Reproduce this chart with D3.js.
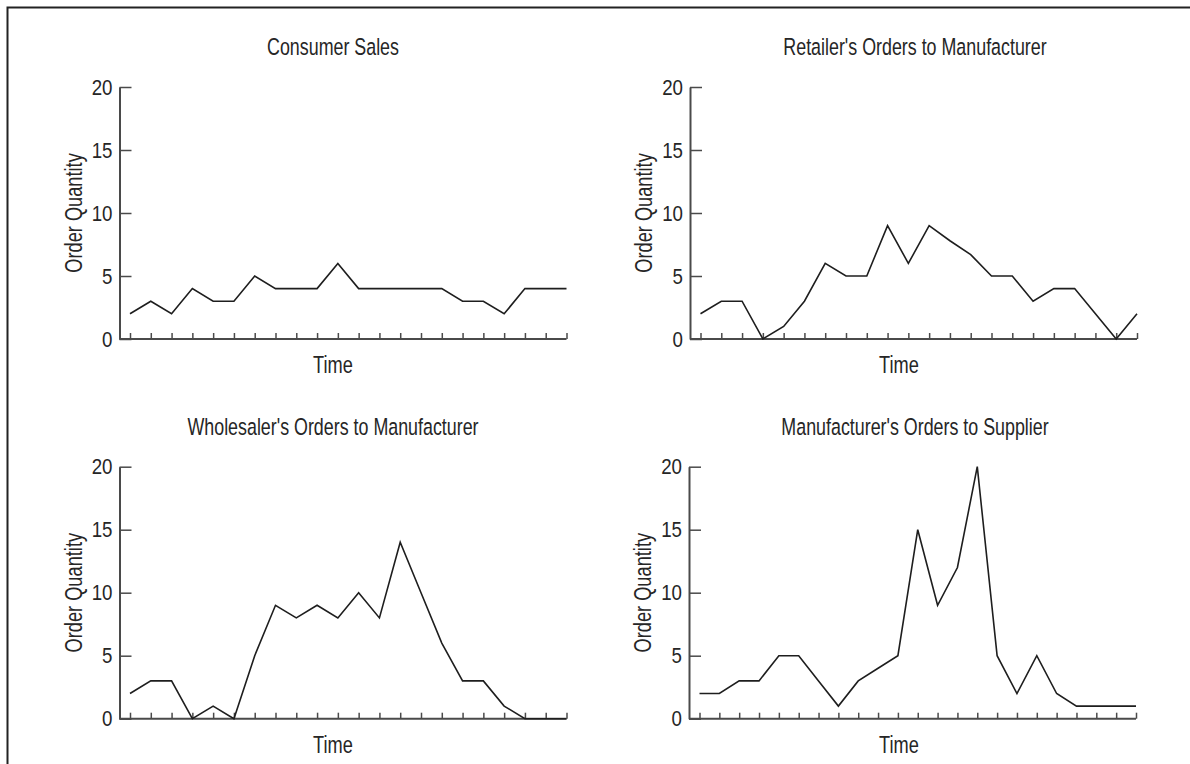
<!DOCTYPE html>
<html>
<head>
<meta charset="utf-8">
<script src="https://cdn.jsdelivr.net/npm/d3@7"></script>
<style>
	body { margin: 0; background: #fff; }
	svg text { font-family: 'Liberation Sans', Arial, sans-serif; fill: #262626; }
</style>
</head>
<body>
<svg id="chart" width="1190" height="764"></svg>
<script>
// order quantities per time period
const consumerSales = [2, 3, 2, 4, 3, 3, 5, 4, 4, 4, 6, 4, 4, 4, 4, 4, 3, 3, 2, 4, 4, 4];
const retailerOrders = [2, 3, 3, 0, 1, 3, 6, 5, 5, 9, 6, 9, 7.8, 6.7, 5, 5, 3, 4, 4, 2, 0, 2];
const wholesalerOrders = [2, 3, 3, 0, 1, 0, 5, 9, 8, 9, 8, 10, 8, 14, 10, 6, 3, 3, 1, 0, 0, 0];
const manufacturerOrders = [2, 2, 3, 3, 5, 5, 3, 1, 3, 4, 5, 15, 9, 12, 20, 5, 2, 5, 2, 1, 1, 1, 1];
const yTicks = [0, 5, 10, 15, 20];
const titles = [
	'Consumer Sales',
	'Retailer\'s Orders to Manufacturer',
	'Wholesaler\'s Orders to Manufacturer',
	'Manufacturer\'s Orders to Supplier'
];
const xLabel = 'Time';
const yLabel = 'Order Quantity';

const panels = [
	{ title: titles[0], values: consumerSales, left: 119.5, top: 87, mid: 333 },
	{ title: titles[1], values: retailerOrders, left: 690, top: 87, mid: 915, timeMid: 899 },
	{ title: titles[2], values: wholesalerOrders, left: 119.5, top: 466.7, mid: 333 },
	{ title: titles[3], values: manufacturerOrders, left: 689, top: 466.7, mid: 915, timeMid: 899 }
];
const plotH = 252;
const plotW = 447;
const squeeze = 0.76; // condensed look for the type
const inkColor = '#1e1e1e';
const axisColor = '#4a4a4a';

const svg = d3.select('#chart');

// page frame (right and bottom edges fall outside the picture)
svg.append('rect')
	.attr('x', 7.5)
	.attr('y', 7.5)
	.attr('width', 1220)
	.attr('height', 800)
	.attr('fill', 'none')
	.attr('stroke', '#222')
	.attr('stroke-width', 2);

const label = (g, str, x, y, size, rot = '') => g.append('text').text(str)
	.attr('transform', `translate(${ x },${ y }) ${ rot } scale(${ squeeze },1)`)
	.attr('text-anchor', 'middle')
	.attr('font-size', size);

const drawPanel = (p) => {
	const y = d3.scaleLinear().domain([0, 20])
		.range([p.top + plotH, p.top]);
	const x = d3.scalePoint().domain(d3.range(p.values.length))
		.range([p.left + 10.5, p.left + plotW]);
	const g = svg.append('g');

	// x axis: line from the y axis to the last tick, short ticks pointing up
	const xg = g.append('g').attr('transform', `translate(0,${ y(0) })`)
		.call(d3.axisBottom(x).tickSize(-6)
			.tickFormat(''));
	xg.select('.domain').remove();
	xg.selectAll('line').attr('stroke', axisColor)
		.attr('stroke-width', 1.5);
	g.append('line')
		.attr('x1', p.left)
		.attr('x2', x.range()[1])
		.attr('y1', y(0))
		.attr('y2', y(0))
		.attr('stroke', axisColor)
		.attr('stroke-width', 2);

	// y axis with ticks pointing into the plot
	const yg = g.append('g').attr('transform', `translate(${ p.left },0)`)
		.call(d3.axisLeft(y).tickValues(yTicks)
			.tickSize(-12)
			.tickSizeOuter(0)
			.tickPadding(7));
	yg.select('.domain').attr('stroke', axisColor)
		.attr('stroke-width', 2);
	yg.selectAll('line').attr('stroke', axisColor)
		.attr('stroke-width', 1.5);
	yg.selectAll('text')
		.attr('x', null)
		.attr('transform', 'translate(-7,0) scale(0.85,1)')
		.attr('font-size', 22)
		.attr('fill', '#262626')
		.style('font-family', null);
	yg.attr('font-family', null);

	g.append('path').datum(p.values)
		.attr('fill', 'none')
		.attr('stroke', inkColor)
		.attr('stroke-width', 1.6)
		.attr('stroke-linejoin', 'miter')
		.attr('d', d3.line().x((d, i) => x(i))
			.y((d) => y(d)));

	label(g, p.title, p.mid, p.top - 32, 23.5);
	label(g, xLabel, p.timeMid || p.mid, y(0) + 34, 24);
	label(g, yLabel, p.left - 38, p.top + plotH / 2, 24, 'rotate(-90)');
};

panels.forEach(drawPanel);
</script>
</body>
</html>
